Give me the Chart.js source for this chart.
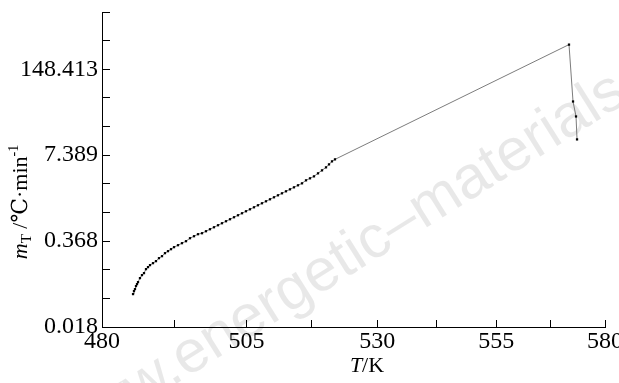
<!DOCTYPE html>
<html>
<head>
<meta charset="utf-8">
<script src="https://cdn.jsdelivr.net/npm/chart.js@4.4.1/dist/chart.umd.min.js"></script>
<style>
  html, body { margin: 0; padding: 0; background: #fff; }
</style>
</head>
<body>
<canvas id="rate" width="619" height="383"></canvas>
<script>
// temperature T/K of each measured point
let temps = [485.16, 485.32, 485.49, 485.66, 485.83, 486.00, 486.33, 486.67, 487.01, 487.35,
  487.69, 488.03, 488.54, 489.05, 489.56, 490.08, 490.59, 491.11, 491.63, 492.15,
  492.84, 493.53, 494.23, 494.93, 495.63, 496.33, 497.04, 497.74, 498.45, 499.16,
  499.88, 500.59, 501.31, 502.03, 502.75, 503.47, 504.20, 504.92, 505.65, 506.38,
  507.11, 507.85, 508.59, 509.33, 510.07, 510.81, 511.56, 512.31, 513.06, 513.81,
  514.57, 515.33, 516.09, 516.85, 517.61, 518.38, 519.15, 519.92, 520.50, 521.08,
  521.66, 571.48, 572.42, 573.12, 573.36];
// heating rate m_T (degC/min)
let rates = [0.0578, 0.0642, 0.0688, 0.0764, 0.0819, 0.0878, 0.1009, 0.1121, 0.1202, 0.1381,
  0.1482, 0.1589, 0.1702, 0.1826, 0.2026, 0.2173, 0.2413, 0.2587, 0.2773, 0.2975,
  0.3187, 0.3419, 0.3666, 0.4068, 0.4363, 0.4679, 0.4841, 0.5192, 0.5567, 0.5966,
  0.6398, 0.6862, 0.7359, 0.7890, 0.8462, 0.9066, 0.9724, 1.043, 1.117, 1.198,
  1.285, 1.378, 1.477, 1.584, 1.699, 1.820, 1.952, 2.094, 2.243, 2.406,
  2.581, 2.765, 3.071, 3.294, 3.529, 3.920, 4.349, 4.831, 5.360, 5.953,
  6.385, 351.2, 48.18, 28.56, 12.82];

let xTickTemps = [480, 505, 530, 555, 580];
let xTickLabels = ["480", "505", "530", "555", "580"];
let yTickPowers = [-4, -3, -2, -1, 0, 1, 2, 3, 4, 5, 6, 7];
let yLabelPowers = [-4, -1, 2, 5];
let yTickLabels = ["0.018", "0.368", "7.389", "148.413"];

const serif = '"Liberation Serif", "DejaVu Serif", "Times New Roman", serif';

// x axis is 1/T: plot u = 1000/T on a reversed linear scale
let points = temps.map((t, i) => ({ x: 1000 / t, y: rates[i] }));

let xTicks = [];
xTickTemps.forEach((t, i) => {
  xTicks.push({ value: 1000 / t, label: xTickLabels[i] });
  if (i < xTickTemps.length - 1) {
    let mid = (1000 / t + 1000 / xTickTemps[i + 1]) / 2;
    xTicks.push({ value: mid, label: "" });
  }
});

let yTicks = yTickPowers.map(p => {
  let k = yLabelPowers.indexOf(p);
  return { value: Math.exp(p), label: k >= 0 ? yTickLabels[k] : "" };
});

let decor = {
  id: "decor",
  beforeDraw(chart) {
    let ctx = chart.ctx;
    ctx.save();
    ctx.fillStyle = "#fff";
    ctx.fillRect(0, 0, chart.width, chart.height);
    // watermark
    ctx.translate(186, 378);
    ctx.rotate(-32 * Math.PI / 180);
    ctx.font = '60px "Liberation Sans", Arial, sans-serif';
    ctx.fillStyle = "rgba(0,0,0,0.09)";
    let pre = ctx.measureText("www.").width;
    ctx.fillText("www.energetic\u2013materials.com", -pre, 0);
    ctx.restore();
  },
  afterDraw(chart) {
    let ctx = chart.ctx;
    ctx.save();
    ctx.fillStyle = "#000";
    ctx.textBaseline = "alphabetic";

    // x title  T/K
    let parts = [
      { t: "T", f: "italic 22px " + serif, dy: 0 },
      { t: "/K", f: "22px " + serif, dy: 0 }
    ];
    drawParts(ctx, parts, 367, 372);

    // y title  m_T /℃·min^-1
    ctx.translate(27, 202);
    ctx.rotate(-Math.PI / 2);
    parts = [
      { t: "m", f: "italic 22px " + serif, dy: 0 },
      { t: "T", f: "15px " + serif, dy: 4 },
      { t: " /\u2103\u00b7min", f: "22px " + serif, dy: 0 },
      { t: "-1", f: "14px " + serif, dy: -9 }
    ];
    drawParts(ctx, parts, 0, 0);
    ctx.restore();
  }
};

function drawParts(ctx, parts, cx, y) {
  let w = 0;
  parts.forEach(p => { ctx.font = p.f; p.w = ctx.measureText(p.t).width; w += p.w; });
  let x = cx - w / 2;
  parts.forEach(p => {
    ctx.font = p.f;
    ctx.fillText(p.t, x, y + p.dy);
    x += p.w;
  });
}

let ctx = document.getElementById("rate").getContext("2d");
let chart = new Chart(ctx, {
  type: "line",
  data: {
    datasets: [{
      data: points,
      borderColor: "#5a5a5a",
      borderWidth: 0.8,
      pointStyle: "rect",
      pointRadius: 1.6,
      pointBackgroundColor: "#000",
      pointBorderColor: "#000",
      pointBorderWidth: 0,
      tension: 0
    }]
  },
  options: {
    responsive: false,
    animation: false,
    layout: { padding: { top: 12, right: 14, bottom: 0, left: 0 } },
    plugins: { legend: { display: false }, tooltip: { enabled: false } },
    scales: {
      x: {
        type: "linear",
        reverse: true,
        min: 1000 / 580,
        max: 1000 / 480,
        afterBuildTicks: s => { s.ticks = xTicks.map(t => ({ value: t.value })); },
        afterFit: s => { s.height = 56; s.paddingLeft = 0; s.paddingRight = 0; },
        grid: { drawOnChartArea: false, drawTicks: true, tickLength: -7, color: "#000", lineWidth: 1 },
        border: { display: true, color: "#000", width: 1 },
        ticks: {
          autoSkip: false,
          maxRotation: 0,
          padding: 7,
          color: "#000",
          font: { family: serif, size: 24 },
          callback: (v, i) => xTicks[i].label
        }
      },
      y: {
        type: "logarithmic",
        min: Math.exp(-4),
        max: Math.exp(7),
        afterBuildTicks: s => { s.ticks = yTicks.map(t => ({ value: t.value })); },
        afterFit: s => { s.width = 102; s.paddingTop = 0; s.paddingBottom = 0; },
        grid: { drawOnChartArea: false, drawTicks: true, tickLength: -8, color: "#000", lineWidth: 1 },
        border: { display: true, color: "#000", width: 1 },
        ticks: {
          autoSkip: false,
          padding: 12,
          color: "#000",
          font: { family: serif, size: 24 },
          callback: (v, i) => yTicks[i].label
        }
      }
    }
  },
  plugins: [decor]
});
</script>
</body>
</html>
